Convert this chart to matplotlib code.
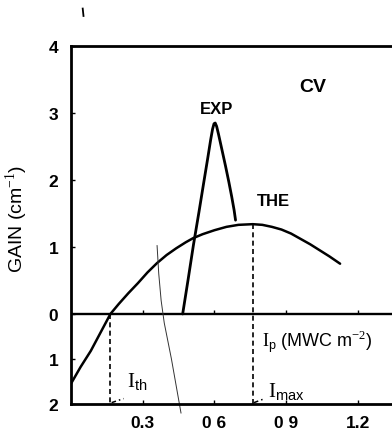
import numpy as np
import matplotlib
matplotlib.use("Agg")
import matplotlib.pyplot as plt
from matplotlib.lines import Line2D

plt.rcParams['font.family'] = ['Liberation Sans', 'DejaVu Sans']
plt.rcParams['mathtext.fontset'] = 'custom'
plt.rcParams['mathtext.rm'] = 'Liberation Serif'
plt.rcParams['mathtext.sf'] = 'Liberation Sans'
plt.rcParams['mathtext.it'] = 'Liberation Sans:italic'

# theoretical gain curve (THE)
the_x = [0.0, 0.04, 0.083, 0.12, 0.165, 0.20, 0.24, 0.28, 0.32, 0.36, 0.40,
         0.44, 0.48, 0.51, 0.55, 0.60, 0.65, 0.70, 0.76, 0.80, 0.84, 0.88,
         0.92, 0.96, 1.00, 1.04, 1.08, 1.125]
the_y = [-1.55, -1.18, -0.82, -0.45, 0.0, 0.15, 0.31, 0.46, 0.62, 0.76, 0.88,
         0.98, 1.07, 1.13, 1.19, 1.25, 1.30, 1.33, 1.34, 1.33, 1.30, 1.26,
         1.20, 1.12, 1.04, 0.95, 0.86, 0.75]

# measured gain curve (EXP)
exp_x = [0.467, 0.49, 0.512, 0.535, 0.555, 0.572, 0.584, 0.592, 0.598, 0.603,
         0.609, 0.617, 0.63, 0.646, 0.66, 0.672, 0.682, 0.688]
exp_y = [0.0, 0.52, 1.03, 1.52, 1.96, 2.33, 2.60, 2.76, 2.84, 2.85,
         2.80, 2.68, 2.47, 2.21, 1.97, 1.75, 1.55, 1.40]

# faint crossing line
thin_x = [0.36, 0.367, 0.377, 0.39, 0.405, 0.42, 0.44, 0.46]
thin_y = [1.02, 0.6, 0.2, -0.2, -0.6, -1.0, -1.6, -2.2]

I_TH = 0.165
I_MAX = 0.76
G_MAX = 1.34

xticks = [0.3, 0.6, 0.9, 1.2]
xlabels = ["0.3", "0 6", "0 9", "1.2"]
yticks = [-2, -1, 0, 1, 2, 3, 4]
ylabels = ["2", "1", "0", "1", "2", "3", "4"]

NEG = 0.672  # negative gain side is drawn compressed


def fwd(y):
    y = np.asarray(y, dtype=float)
    return np.where(y >= 0, y, y * NEG)


def inv(y):
    y = np.asarray(y, dtype=float)
    return np.where(y >= 0, y, y / NEG)


fig = plt.figure(figsize=(3.92, 4.35), dpi=100)
ax = fig.add_axes([0.181, 0.069, 0.819, 0.823])
ax.set_yscale('function', functions=(fwd, inv))
ax.set_xlim(0, 1.342)
ax.set_ylim(-2, 4)

for s in ['left', 'bottom', 'top']:
    ax.spines[s].set_linewidth(2.0)
ax.spines['right'].set_visible(False)

ax.axhline(0, color='black', lw=1.7)
ax.plot(the_x, the_y, color='black', lw=1.8, solid_joinstyle='round',
        solid_capstyle='round')
ax.plot(exp_x, exp_y, color='black', lw=2.0, solid_joinstyle='round',
        solid_capstyle='round')
ax.plot(thin_x, thin_y, color='#333333', lw=0.7, clip_on=False)

ax.plot([I_TH, I_TH], [0, -2], color='black', lw=1.2, ls=(0, (3, 2)))
ax.plot([I_MAX, I_MAX], [G_MAX, -2], color='black', lw=1.2, ls=(0, (3, 2)))
ax.plot([I_TH + 0.005, I_TH + 0.055], [-1.97, -1.88], color='black', lw=1.1,
        ls=(0, (3, 2, 1, 2)))
ax.plot([I_MAX + 0.005, I_MAX + 0.05], [-1.97, -1.88], color='black', lw=1.1,
        ls=(0, (3, 2, 1, 2)))

# little tick marks on the zero line
ax.plot(xticks, [0] * len(xticks), ls='none', marker=2, ms=3, mew=1, color='black')

ax.set_xticks(xticks)
ax.set_xticklabels(xlabels, fontsize=12.5, fontweight='bold')
ax.set_yticks(yticks)
ax.set_yticklabels(ylabels, fontsize=12.5, fontweight='bold')
ax.minorticks_off()
ax.tick_params(axis='both', direction='in', length=3, width=1)
ax.tick_params(axis='y', pad=9)
ax.tick_params(axis='x', pad=8)

ax.set_ylabel("GAIN (cm$^{-1}$)", fontsize=14)
ax.yaxis.set_label_coords(-0.13, 0.52)

ax.text(1.01, 3.39, "CV", fontsize=14, fontweight='bold', ha='center', va='center')
ax.text(0.61, 3.06, "EXP", fontsize=12, fontweight='bold', ha='center', va='center')
ax.text(0.845, 1.69, "THE", fontsize=12, fontweight='bold', ha='center', va='center')
ax.text(0.80, -0.6, r"$\mathrm{I}_{\mathsf{p}}$ (MWC m$^{-2}$)", fontsize=13,
        ha='left', va='center')
ax.text(0.233, -1.62, r"$\mathrm{I}_{\mathsf{th}}$", fontsize=15,
        ha='left', va='baseline')
ax.text(0.825, -1.84, r"$\mathrm{I}_{\mathsf{max}}$", fontsize=15,
        ha='left', va='baseline')

fig.add_artist(Line2D([0.211, 0.213], [0.978, 0.961], color='black', lw=1.3))

fig.savefig("out.png", dpi=100)
